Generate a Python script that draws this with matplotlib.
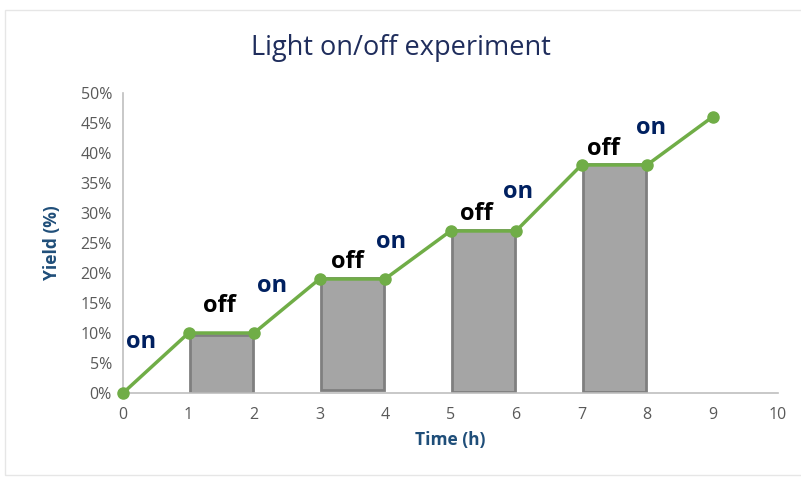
import matplotlib.pyplot as plt
from matplotlib.patches import Rectangle
from matplotlib.ticker import PercentFormatter

# yield curve (light on/off)
time_h = [0, 1, 2, 3, 4, 5, 6, 7, 8, 9]
yield_pct = [0, 10, 10, 19, 19, 27, 27, 38, 38, 46]

# grey "off" blocks
bar_left = [1, 3, 5, 7]
bar_bottom = [0, 0.5, 0.2, 0.2]
bar_top = [9.7, 19.2, 27.2, 38.2]

# annotations
label_text = ['on', 'off', 'on', 'off', 'on', 'off', 'on', 'off', 'on']
label_x = [0.27, 1.47, 2.27, 3.42, 4.09, 5.39, 6.03, 7.33, 8.06]
label_y = [8.5, 14.5, 17.8, 21.8, 25.2, 29.8, 33.5, 40.7, 44.2]

plt.rcParams['font.family'] = ['Open Sans', 'DejaVu Sans']

fig = plt.figure(figsize=(8.01, 4.79), dpi=100)
fig.patches.append(Rectangle((0.006, 0.008), 1.1, 0.972, transform=fig.transFigure,
                             fill=False, edgecolor='#e6e6e6', linewidth=1))
ax = fig.add_axes([0.1536, 0.1795, 0.8177, 0.6265])

for x0, b, t in zip(bar_left, bar_bottom, bar_top):
    ax.bar(x0 + 0.02, t - b, bottom=b, width=0.96, align='edge',
           color='#a5a5a5', edgecolor='#7f7f7f', linewidth=2, zorder=2)

ax.plot(time_h, yield_pct, color='#70ad47', linewidth=2.5, marker='o',
        markersize=8, zorder=3, clip_on=False)

for txt, x, y in zip(label_text, label_x, label_y):
    ax.text(x, y, txt, fontsize=17, fontweight='bold', ha='center', va='center',
            color='#002060' if txt == 'on' else 'black', zorder=4)

ax.set_xlim(0, 10)
ax.set_ylim(0, 50)
ax.set_xticks(range(0, 11))
ax.set_yticks(range(0, 51, 5))
ax.yaxis.set_major_formatter(PercentFormatter(decimals=0))
ax.tick_params(length=0, labelsize=11.5, colors='#595959', pad=8)
ax.tick_params(axis='x', pad=10)

for s in ['top', 'right']:
    ax.spines[s].set_visible(False)
for s in ['left', 'bottom']:
    ax.spines[s].set_color('#bfbfbf')
    ax.spines[s].set_linewidth(1.2)

ax.set_xlabel('Time (h)', fontsize=12.5, fontweight='bold', color='#1f4e79', labelpad=6)
ax.set_ylabel('Yield (%)', fontsize=12.5, fontweight='bold', color='#1f4e79', labelpad=14)
fig.text(0.5, 0.9, 'Light on/off experiment', ha='center', va='center',
         fontsize=19.5, color='#1f2d5c')

fig.savefig('out.png', dpi=100)
